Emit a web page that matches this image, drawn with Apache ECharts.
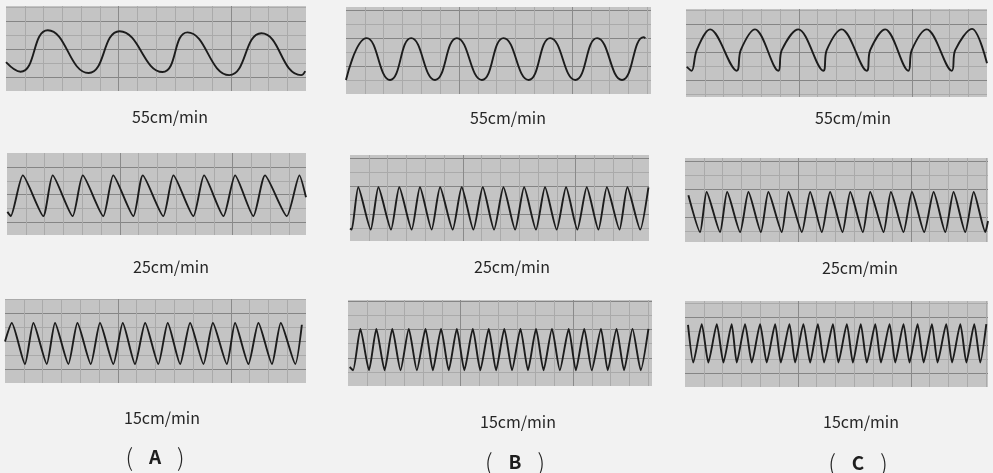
<!DOCTYPE html>
<html>
<head>
<meta charset="utf-8">
<title>chart paper traces</title>
<script src="https://cdn.jsdelivr.net/npm/echarts@6/dist/echarts.min.js"></script>
<style>
html, body { margin: 0; padding: 0; background: #f2f2f2; }
#main { width: 993px; height: 473px; }
</style>
</head>
<body>
<div id="main"></div>
<script>
// traces: [time, amplitude], both in paper divisions
var traceA55 = [[0, 2.07], [0.78, 1.38], [2.23, 4.36], [4.41, 1.29], [6.06, 4.29], [8.35, 1.36],
    [9.68, 4.21], [11.91, 1.14], [13.62, 4.14], [15.74, 1.14], [15.96, 1.43]];
var traceB55 = [[0, 1.0], [1.10, 3.98], [2.34, 1.0], [3.46, 3.98], [4.73, 1.0], [5.89, 3.98],
    [7.22, 1.0], [8.37, 3.98], [9.70, 1.0], [10.85, 3.98], [12.18, 1.0], [13.34, 3.98],
    [14.66, 1.0], [15.81, 4.05], [15.9, 3.98]];
// C at 55: trough, steep part of the upstroke, peak
var traceC55 = [[0.04, 2.16], [0.30, 1.88], [0.57, 3.36], [1.28, 4.84], [2.70, 1.88], [2.91, 3.36],
    [3.67, 4.84], [4.91, 1.88], [5.09, 3.36], [5.97, 4.84], [7.30, 1.88], [7.48, 3.36],
    [8.28, 4.84], [9.61, 1.88], [9.79, 3.36], [10.59, 4.84], [11.82, 1.88], [12.0, 3.36],
    [12.80, 4.84], [14.13, 1.88], [14.31, 3.36], [15.20, 4.88], [16.0, 2.41]];

var traceA25 = [[0.02, 1.66], [0.20, 1.36], [0.84, 4.29], [1.93, 1.36], [2.43, 4.29], [3.49, 1.36],
    [4.03, 4.29], [5.12, 1.36], [5.65, 4.29], [6.72, 1.36], [7.22, 4.29], [8.31, 1.36],
    [8.85, 4.29], [9.91, 1.36], [10.48, 4.29], [11.51, 1.36], [12.13, 4.29], [13.10, 1.36],
    [13.72, 4.29], [14.88, 1.36], [15.55, 4.29], [15.9, 2.71]];
var traceB25 = [[0, 0.89], [0.09, 0.81], [0.44, 3.81], [1.10, 0.81], [1.51, 3.81], [2.18, 0.81],
    [2.62, 3.81], [3.28, 0.81], [3.72, 3.81], [4.34, 0.81], [4.79, 3.81], [5.46, 0.81],
    [5.94, 3.81], [6.56, 0.81], [7.06, 3.81], [7.66, 0.81], [8.16, 3.81], [8.78, 0.81],
    [9.26, 3.81], [9.89, 0.81], [10.37, 3.81], [10.99, 0.81], [11.49, 3.81], [12.09, 0.81],
    [12.59, 3.81], [13.21, 0.81], [13.66, 3.81], [14.33, 0.81], [14.75, 3.81], [15.43, 0.81],
    [15.87, 3.81]];
var traceC25 = [[0.18, 3.34], [0.80, 0.71], [1.15, 3.57], [1.86, 0.71], [2.24, 3.57], [2.93, 0.71],
    [3.37, 3.57], [4.03, 0.71], [4.43, 3.57], [5.14, 0.71], [5.50, 3.57], [6.21, 0.71],
    [6.65, 3.57], [7.27, 0.71], [7.71, 3.57], [8.37, 0.71], [8.78, 3.57], [9.45, 0.71],
    [9.84, 3.57], [10.55, 0.71], [10.94, 3.57], [11.61, 0.71], [12.06, 3.57], [12.71, 0.71],
    [13.21, 3.57], [13.83, 0.71], [14.27, 3.57], [14.89, 0.71], [15.34, 3.57], [15.96, 0.71],
    [16.1, 1.5]];

var traceA15 = [[0, 2.97], [0.36, 4.29], [1.06, 1.36], [1.51, 4.29], [2.22, 1.36], [2.66, 4.29],
    [3.37, 1.36], [3.85, 4.29], [4.56, 1.36], [5.05, 4.29], [5.76, 1.36], [6.26, 4.29],
    [6.91, 1.36], [7.45, 4.29], [8.15, 1.36], [8.65, 4.29], [9.31, 1.36], [9.84, 4.29],
    [10.55, 1.36], [11.05, 4.29], [11.79, 1.36], [12.23, 4.29], [12.94, 1.36], [13.47, 4.29],
    [14.19, 1.36], [14.66, 4.29], [15.43, 1.36], [15.78, 4.16]];
var traceB15 = [[0.09, 1.35], [0.27, 1.12], [0.66, 4.05], [1.12, 1.12], [1.51, 4.05], [1.95, 1.12],
    [2.36, 4.05], [2.80, 1.12], [3.24, 4.05], [3.67, 1.12], [4.13, 4.05], [4.52, 1.12],
    [4.96, 4.05], [5.37, 1.12], [5.80, 4.05], [6.20, 1.12], [6.65, 4.05], [7.05, 1.12],
    [7.50, 4.05], [7.89, 1.12], [8.33, 4.05], [8.74, 1.12], [9.19, 4.05], [9.59, 1.12],
    [10.02, 4.05], [10.42, 1.12], [10.87, 4.05], [11.29, 1.12], [11.76, 4.05], [12.14, 1.12],
    [12.59, 4.05], [12.99, 1.12], [13.48, 4.05], [13.84, 1.12], [14.31, 4.05], [14.71, 1.12],
    [15.16, 4.05], [15.60, 1.12], [16.01, 4.05]];
var traceC15 = [[0.16, 4.41], [0.44, 1.74], [0.89, 4.46], [1.24, 1.74], [1.69, 4.46], [2.04, 1.74],
    [2.48, 4.46], [2.75, 1.74], [3.19, 4.46], [3.55, 1.74], [3.99, 4.46], [4.34, 1.74],
    [4.79, 4.46], [5.09, 1.74], [5.55, 4.46], [5.85, 1.74], [6.29, 4.46], [6.65, 1.74],
    [7.06, 4.46], [7.39, 1.74], [7.86, 4.46], [8.15, 1.74], [8.60, 4.46], [8.92, 1.74],
    [9.34, 4.46], [9.66, 1.74], [10.11, 4.46], [10.41, 1.74], [10.87, 4.46], [11.17, 1.74],
    [11.61, 4.46], [11.93, 1.74], [12.36, 4.46], [12.68, 1.74], [13.12, 4.46], [13.42, 1.74],
    [13.88, 4.46], [14.19, 1.74], [14.63, 4.46], [14.95, 1.74], [15.37, 4.46], [15.69, 1.74],
    [16.01, 4.46]];

var speedLabels = ['55cm/min', '25cm/min', '15cm/min'];
var groupLabels = ['A', 'B', 'C'];

// paper size in divisions (spanX, spanY), where the bold rulings sit (phaseY), pen smoothing
var panels = [
    {trace: traceA55, spanX: 16.0, spanY: 6.1, phaseY: 1.0, smooth: 0.5, left: 6, top: 6, width: 300, height: 85},
    {trace: traceB55, spanX: 16.2, spanY: 6.2, phaseY: 0, smooth: 0.5, left: 346, top: 7, width: 305, height: 87},
    {trace: traceC55, spanX: 16.0, spanY: 6.3, phaseY: 1.2, smooth: 0.35, left: 686, top: 9, width: 301, height: 88},
    {trace: traceA25, spanX: 15.9, spanY: 5.9, phaseY: 0.9, smooth: 0.2, left: 7, top: 153, width: 299, height: 82},
    {trace: traceB25, spanX: 15.9, spanY: 6.1, phaseY: 1.9, smooth: 0.2, left: 350, top: 155, width: 299, height: 86},
    {trace: traceC25, spanX: 16.1, spanY: 6.0, phaseY: 1.8, smooth: 0.2, left: 685, top: 158, width: 303, height: 84},
    {trace: traceA15, spanX: 16.0, spanY: 6.0, phaseY: 0.95, smooth: 0.2, left: 5, top: 299, width: 301, height: 84},
    {trace: traceB15, spanX: 16.2, spanY: 6.1, phaseY: 0, smooth: 0.2, left: 348, top: 300, width: 304, height: 86},
    {trace: traceC15, spanX: 16.1, spanY: 6.1, phaseY: 0.96, smooth: 0.2, left: 685, top: 301, width: 303, height: 86}
];

// label spots under each strip
var speedPos = [[170, 117], [508, 118], [853, 118], [171, 267], [512, 267], [860, 268],
    [162, 418], [518, 422], [861, 422]];
var groupPos = [[155, 457], [515, 462], [858, 463]];

var grids = [], xAxes = [], yAxes = [], series = [], texts = [];
var hidden = {axisLine: {show: false}, axisTick: {show: false}, axisLabel: {show: false}};

panels.forEach(function (p, i) {
    grids.push({
        left: p.left, top: p.top, width: p.width, height: p.height,
        show: true, backgroundColor: '#c4c4c4', borderWidth: 0
    });
    // rulings of the paper
    xAxes.push(echarts.util.merge({
        gridIndex: i, type: 'value', min: 0, max: p.spanX,
        minInterval: 6, maxInterval: 6,
        splitLine: {show: true, showMinLine: false, showMaxLine: false, lineStyle: {color: '#8a8a8a', width: 1}},
        minorTick: {show: false, splitNumber: 6},
        minorSplitLine: {show: true, lineStyle: {color: '#aaaaaa', width: 1}}
    }, hidden, true));
    yAxes.push(echarts.util.merge({
        gridIndex: i, type: 'value', min: -p.phaseY, max: p.spanY - p.phaseY,
        minInterval: 2, maxInterval: 2,
        splitLine: {show: true, showMinLine: false, showMaxLine: false, lineStyle: {color: '#858585', width: 1}},
        minorTick: {show: false, splitNumber: 2},
        minorSplitLine: {show: true, lineStyle: {color: '#aaaaaa', width: 1}}
    }, hidden, true));
    // axes for the pen trace
    xAxes.push({gridIndex: i, type: 'value', min: 0, max: p.spanX, show: false});
    yAxes.push({gridIndex: i, type: 'value', min: 0, max: p.spanY, show: false});
    series.push({
        type: 'line', xAxisIndex: 2 * i + 1, yAxisIndex: 2 * i + 1,
        data: p.trace, smooth: p.smooth, showSymbol: false, silent: true,
        lineStyle: {color: '#1c1c1c', width: 1.9}
    });
    texts.push({
        type: 'text', x: speedPos[i][0], y: speedPos[i][1], silent: true,
        style: {
            text: speedLabels[Math.floor(i / 3)], align: 'center', verticalAlign: 'middle',
            fontSize: 16, fontFamily: '"Noto Sans CJK JP"', fill: '#262626'
        }
    });
});

groupLabels.forEach(function (g, i) {
    texts.push({
        type: 'text', x: groupPos[i][0], y: groupPos[i][1], silent: true,
        style: {
            text: '(   {b|' + g + '}   )', align: 'center', verticalAlign: 'middle',
            fontSize: 24, fontFamily: '"Noto Sans CJK JP"', fontWeight: 300, fill: '#262626',
            rich: {b: {fontSize: 19, fontWeight: 'bold', fontFamily: '"Noto Sans CJK JP"', fill: '#1e1e1e'}}
        }
    });
});

var myChart = echarts.init(document.getElementById('main'));
myChart.setOption({
    backgroundColor: '#f2f2f2',
    animation: false,
    grid: grids,
    xAxis: xAxes,
    yAxis: yAxes,
    series: series,
    graphic: texts
});
window.onresize = myChart.resize;
</script>
</body>
</html>
